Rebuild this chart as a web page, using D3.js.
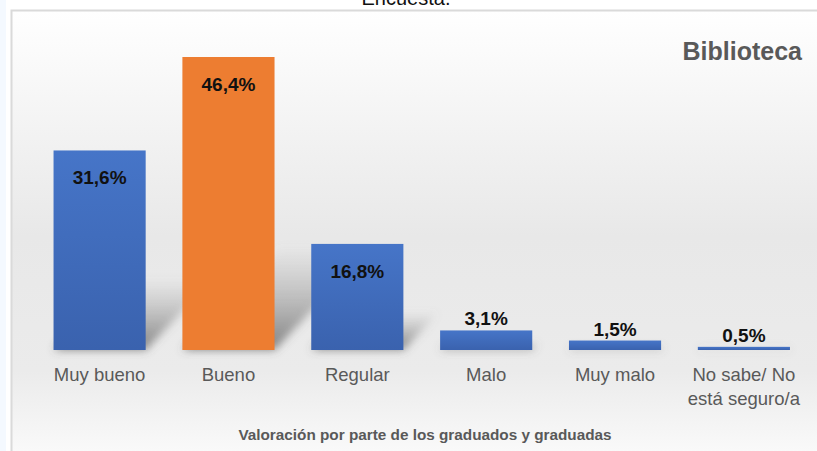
<!DOCTYPE html>
<html>
<head>
<meta charset="utf-8">
<script src="https://cdn.jsdelivr.net/npm/d3@7"></script>
<style>
  html, body { margin: 0; padding: 0; background: #fff; }
  svg { display: block; font-family: "Liberation Sans", Arial, sans-serif; }
</style>
</head>
<body>
<div id="chart"></div>
<script>
// Valoración de la biblioteca (%)
const categories = ['Muy bueno', 'Bueno', 'Regular', 'Malo', 'Muy malo', 'No sabe/ No|está seguro/a'];
const values = [31.6, 46.4, 16.8, 3.1, 1.5, 0.5];
const valueLabels = ['31,6%', '46,4%', '16,8%', '3,1%', '1,5%', '0,5%'];
const highlight = 'Bueno';

const W = 817, H = 451;
const baseY = 350;

const svg = d3.select('#chart').append('svg')
  .attr('width', W).attr('height', H);

const defs = svg.append('defs');
const bg = defs.append('linearGradient').attr('id', 'bg').attr('x1', 0).attr('y1', 0).attr('x2', 0).attr('y2', 1);
bg.append('stop').attr('offset', '0%').attr('stop-color', '#ffffff');
bg.append('stop').attr('offset', '50%').attr('stop-color', '#e8e8e8');
bg.append('stop').attr('offset', '80%').attr('stop-color', '#ebebeb');
bg.append('stop').attr('offset', '100%').attr('stop-color', '#fbfbfb');

const blue = defs.append('linearGradient').attr('id', 'blue').attr('x1', 0).attr('y1', 0).attr('x2', 0).attr('y2', 1);
blue.append('stop').attr('offset', '0%').attr('stop-color', '#4675c8');
blue.append('stop').attr('offset', '100%').attr('stop-color', '#3a62ae');

const shadowGrad = defs.append('linearGradient').attr('id', 'shade').attr('x1', 0).attr('y1', 1).attr('x2', 0).attr('y2', 0);
shadowGrad.append('stop').attr('offset', '0%').attr('stop-color', '#555').attr('stop-opacity', 0.7);
shadowGrad.append('stop').attr('offset', '100%').attr('stop-color', '#888').attr('stop-opacity', 0);
defs.append('filter').attr('id', 'blur').attr('x', '-30%').attr('y', '-30%').attr('width', '160%').attr('height', '160%')
  .append('feGaussianBlur').attr('stdDeviation', 4);

// faint strip at the left edge of the page
svg.append('rect').attr('x', 0).attr('y', 0).attr('width', 6).attr('height', H).attr('fill', '#f4f9ff');

// cut-off heading above the frame
svg.append('text').attr('x', 406).attr('y', 5).attr('text-anchor', 'middle')
  .attr('font-size', 20).attr('fill', '#111').text('Encuesta.');

// frame
svg.append('rect').attr('x', 11.5).attr('y', 10.5).attr('width', W).attr('height', H)
  .attr('fill', 'url(#bg)').attr('stroke', '#dadada').attr('stroke-width', 2);

const x = d3.scaleBand().domain(categories).range([35.5, 808]).paddingInner(0.285).paddingOuter(0.14);
const y = d3.scaleLinear().domain([0, 46.4]).range([baseY, 57]);

const data = categories.map((c, i) => ({ c, v: values[i], label: valueLabels[i] }));

// perspective shadows
svg.append('g').attr('filter', 'url(#blur)')
  .selectAll('path').data(data).join('path')
  .attr('fill', 'url(#shade)')
  .attr('d', (d) => {
    const x0 = x(d.c), x1 = x0 + x.bandwidth();
    const h = (baseY - y(d.v)) * 0.36;
    const dx = h * 0.95;
    return `M${x0},${baseY}L${x1},${baseY}L${x1 + dx},${baseY - h}L${x0 + dx},${baseY - h}Z`;
  });

svg.append('g').selectAll('rect').data(data).join('rect')
  .attr('x', (d) => x(d.c))
  .attr('y', (d) => y(d.v))
  .attr('width', x.bandwidth())
  .attr('height', (d) => baseY - y(d.v))
  .attr('fill', (d) => d.c === highlight ? '#ed7d31' : 'url(#blue)');

// value labels: inside for tall bars, above for short ones
svg.append('g').selectAll('text').data(data).join('text')
  .attr('x', (d) => x(d.c) + x.bandwidth() / 2)
  .attr('y', (d) => (baseY - y(d.v) > 40 ? y(d.v) + 34 : y(d.v) - 5))
  .attr('text-anchor', 'middle')
  .attr('font-size', 19).attr('font-weight', 'bold').attr('fill', '#111')
  .text((d) => d.label);

// category labels
const cat = svg.append('g').selectAll('text').data(categories).join('text')
  .attr('x', (d) => x(d) + x.bandwidth() / 2)
  .attr('y', 381)
  .attr('text-anchor', 'middle')
  .attr('font-size', 18.5).attr('fill', '#595959');
cat.selectAll('tspan').data((d) => d.split('|')).join('tspan')
  .attr('x', function () { return d3.select(this.parentNode).attr('x'); })
  .attr('dy', (d, i) => (i ? 24 : 0))
  .text((d) => d);

svg.append('text').attr('x', 425).attr('y', 440).attr('text-anchor', 'middle')
  .attr('font-size', 15.3).attr('font-weight', 'bold').attr('fill', '#595959')
  .text('Valoración por parte de los graduados y graduadas');

svg.append('text').attr('x', 802).attr('y', 60).attr('text-anchor', 'end')
  .attr('font-size', 25).attr('font-weight', 'bold').attr('fill', '#595959')
  .text('Biblioteca');
</script>
</body>
</html>
